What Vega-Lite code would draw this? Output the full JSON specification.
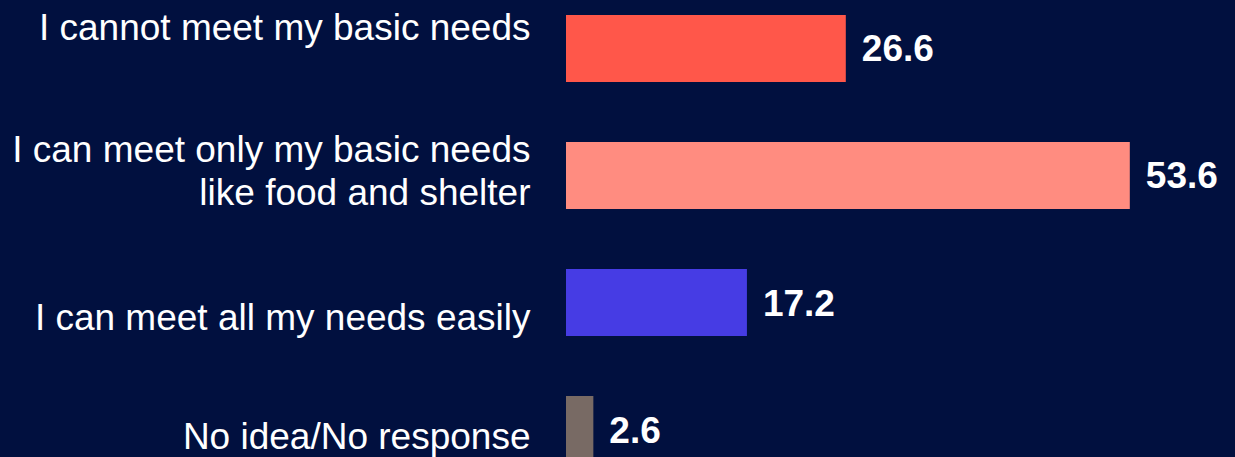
{
  "$schema": "https://vega.github.io/schema/vega-lite/v6.json",
  "width": 669,
  "height": 457,
  "autosize": {"type": "none"},
  "padding": {"left": 566, "top": 0, "right": 0, "bottom": 0},
  "background": "#01103f",
  "config": {"view": {"stroke": null}, "font": "Liberation Sans"},
  "data": {
    "values": [
      {"category": "I cannot meet my basic needs", "value": 26.6},
      {"category": "I can meet only my basic needs like food and shelter", "value": 53.6},
      {"category": "I can meet all my needs easily", "value": 17.2},
      {"category": "No idea/No response", "value": 2.6}
    ]
  },
  "encoding": {
    "y": {
      "field": "category",
      "type": "nominal",
      "sort": null,
      "scale": {"range": [0, 478], "paddingInner": 0.4724, "paddingOuter": 0.118},
      "axis": {
        "title": null,
        "domain": false,
        "ticks": false,
        "tickSize": 0,
        "labelPadding": 36,
        "labelLimit": 600,
        "labelFontSize": 37,
        "labelColor": "#ffffff",
        "labelFont": "Liberation Sans",
        "labelLineHeight": 43,
        "labelBaseline": "middle",
        "labelOffset": {
          "condition": [
            {"test": "datum.value == 'I cannot meet my basic needs'", "value": -19},
            {"test": "datum.value == 'I can meet only my basic needs like food and shelter'", "value": -24},
            {"test": "datum.value == 'I can meet all my needs easily'", "value": 16}
          ],
          "value": 8
        },
        "labelExpr": "datum.label == 'I can meet only my basic needs like food and shelter' ? ['I can meet only my basic needs', 'like food and shelter'] : datum.label"
      }
    },
    "x": {
      "field": "value",
      "type": "quantitative",
      "scale": {"domain": [0, 63.6]},
      "axis": null
    }
  },
  "layer": [
    {
      "mark": {"type": "bar", "clip": true},
      "encoding": {
        "color": {
          "field": "category",
          "type": "nominal",
          "scale": {
            "domain": ["I cannot meet my basic needs", "I can meet only my basic needs like food and shelter", "I can meet all my needs easily", "No idea/No response"],
            "range": ["#ff574a", "#ff8c80", "#463ce4", "#786a64"]
          },
          "legend": null
        }
      }
    },
    {
      "mark": {"type": "text", "align": "left", "baseline": "middle", "dx": 16, "dy": 2, "fontSize": 37, "fontWeight": "bold", "color": "#ffffff", "font": "Liberation Sans"},
      "encoding": {
        "text": {"field": "value", "type": "quantitative", "format": ".1f"}
      }
    }
  ]
}
